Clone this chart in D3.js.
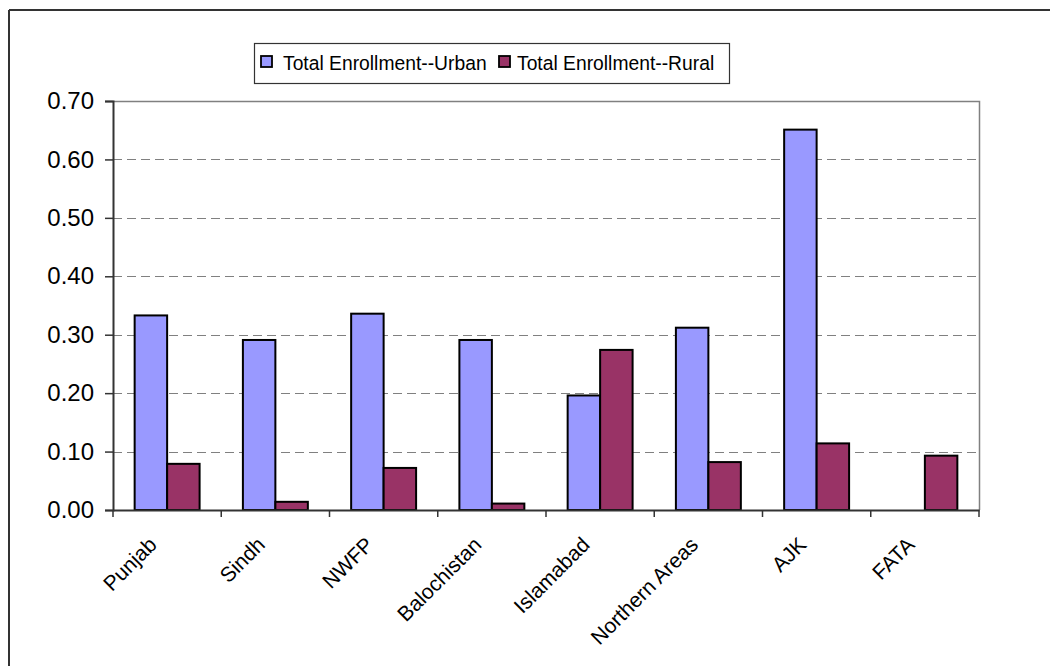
<!DOCTYPE html>
<html><head><meta charset="utf-8">
<script src="https://cdn.jsdelivr.net/npm/d3@7"></script>
<style>body{margin:0;background:#fff}svg{display:block}text{font-family:Arial,"Liberation Sans",sans-serif;fill:#000}</style>
</head><body><svg id="c" width="1050" height="666"></svg>
<script>
const categories = ["Punjab","Sindh","NWFP","Balochistan","Islamabad","Northern Areas","AJK","FATA"];
const urban = [0.333,0.291,0.336,0.291,0.196,0.312,0.651,0];
const rural = [0.079,0.014,0.072,0.011,0.274,0.082,0.114,0.093];
const seriesNames = ["Total Enrollment--Urban","Total Enrollment--Rural"];
const colors = ["#9999FF","#993366"];
const yTicks = [0,0.1,0.2,0.3,0.4,0.5,0.6,0.7];

const svg = d3.select("#c");
const L=113,R=979,T=101,B=510;
const x = d3.scaleBand().domain(categories).range([L,R]);
const bw = x.bandwidth()*0.3;
const y = d3.scaleLinear().domain([0,0.7]).range([B,T]);

// outer frame (top & left only, chart is cropped)
svg.append("line").attr("x1",9).attr("x2",1050).attr("y1",10).attr("y2",10).attr("stroke","#333").attr("stroke-width",2);
svg.append("line").attr("x1",9).attr("x2",9).attr("y1",10).attr("y2",666).attr("stroke","#333").attr("stroke-width",2);

// gridlines
svg.append("g").selectAll("line").data(yTicks.filter(d=>d>0&&d<0.7)).join("line")
  .attr("x1",L).attr("x2",R).attr("y1",d=>Math.round(y(d))+0.5).attr("y2",d=>Math.round(y(d))+0.5)
  .attr("stroke","#808080").attr("stroke-width",1.2).attr("stroke-dasharray","9,5");
// plot border top & right
svg.append("path").attr("d",`M${L},${T+0.5}H${R+0.5}V${B}`).attr("fill","none").attr("stroke","#808080").attr("stroke-width",1.5);

// bars
const data = categories.map((c,i)=>({c,v:[urban[i],rural[i]]}));
const g = svg.append("g");
data.forEach(d=>{
  d.v.forEach((v,k)=>{
    if(v<=0) return;
    const x0 = x(d.c)+x.bandwidth()*0.2 + k*bw;
    g.append("rect").attr("x",x0).attr("y",y(v)).attr("width",bw).attr("height",B-y(v))
      .attr("fill",colors[k]).attr("stroke","#000").attr("stroke-width",2);
  });
});

// y axis
const ya = svg.append("g").attr("transform",`translate(${L},0)`)
  .call(d3.axisLeft(y).tickValues(yTicks).tickFormat(d3.format(".2f")).tickSize(8).tickPadding(11));
ya.select(".domain").attr("stroke","#333").attr("stroke-width",2);
ya.selectAll(".tick line").attr("stroke","#333").attr("stroke-width",1.5);
ya.selectAll("text").style("font-size","24px").attr("font-family","Arial, Liberation Sans, sans-serif");

// x axis
const xa = svg.append("g").attr("transform",`translate(0,${B})`)
  .call(d3.axisBottom(x).tickSize(0).tickFormat(""));
xa.select(".domain").attr("stroke","#333").attr("stroke-width",2);
const tickPos = categories.map(c=>x(c)).concat([R]);
svg.append("g").selectAll("line").data(tickPos).join("line")
  .attr("x1",d=>d).attr("x2",d=>d).attr("y1",B).attr("y2",B+7).attr("stroke","#333").attr("stroke-width",1.5);
svg.append("g").selectAll("text").data(categories).join("text")
  .attr("transform",c=>`translate(${x(c)+x.bandwidth()/2-9},${B+36}) rotate(-45)`)
  .attr("text-anchor","end").style("font-size","21px").text(c=>c);

// legend
const lg = svg.append("g");
lg.append("rect").attr("x",254.5).attr("y",43.5).attr("width",475).attr("height",40).attr("fill","#fff").attr("stroke","#333").attr("stroke-width",1.2);
const lx = [261,499], tx=[283,517];
seriesNames.forEach((n,k)=>{
  lg.append("rect").attr("x",lx[k]).attr("y",56).attr("width",11).attr("height",11).attr("fill",colors[k]).attr("stroke","#000").attr("stroke-width",1.8);
  lg.append("text").attr("x",tx[k]).attr("y",70).style("font-size","19.3px").text(n);
});
</script></body></html>
